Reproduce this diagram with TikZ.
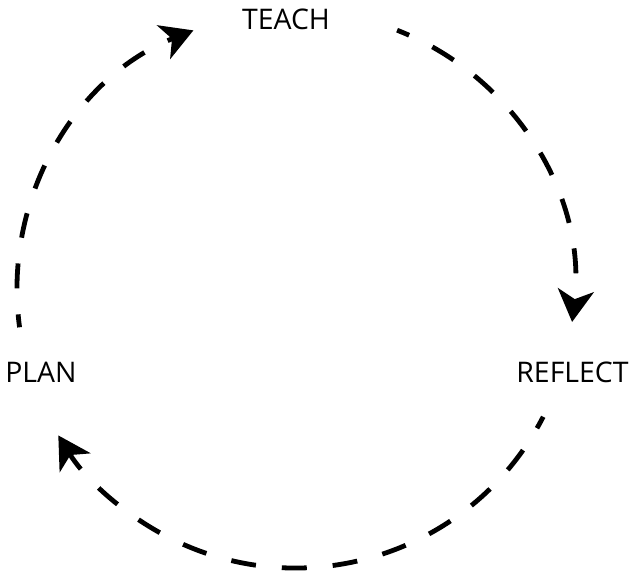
\documentclass[tikz,border=0pt]{standalone}
\usepackage{fontspec}
\setmainfont{Open Sans}
\usetikzlibrary{arrows.meta}
\begin{document}
\begin{tikzpicture}[x=1bp,y=1bp,
  cyc/.style={line width=4.8bp, dash pattern=on 25bp off 26bp, dash phase=12bp,
    -{Stealth[length=32bp,width=36bp,inset=9bp]}},
  lbl/.style={inner sep=0pt, font=\fontsize{28.5}{34}\selectfont}]
\useasboundingbox (0,0) rectangle (631,576);
\coordinate (C) at (295.5,286.5);
\node[lbl] (teach) at (286,557) {TEACH};
\node[lbl] (plan) at (41,204) {PLAN};
\node[lbl] (reflect) at (572.5,204) {REFLECT};
\path (C) ++(187.8:278.5bp) coordinate (s1);
\path (C) ++(68.6:278.5bp) coordinate (s2);
\path (C) ++(-27.2:278.5bp) coordinate (s3);
\draw[cyc] (s1) arc[start angle=187.8, end angle=111.5, radius=278.5bp];
\draw[cyc] (s2) arc[start angle=68.6, end angle=-6.7, radius=278.5bp];
\draw[cyc] (s3) arc[start angle=-27.2, end angle=-148.4, radius=278.5bp];
\end{tikzpicture}
\end{document}
